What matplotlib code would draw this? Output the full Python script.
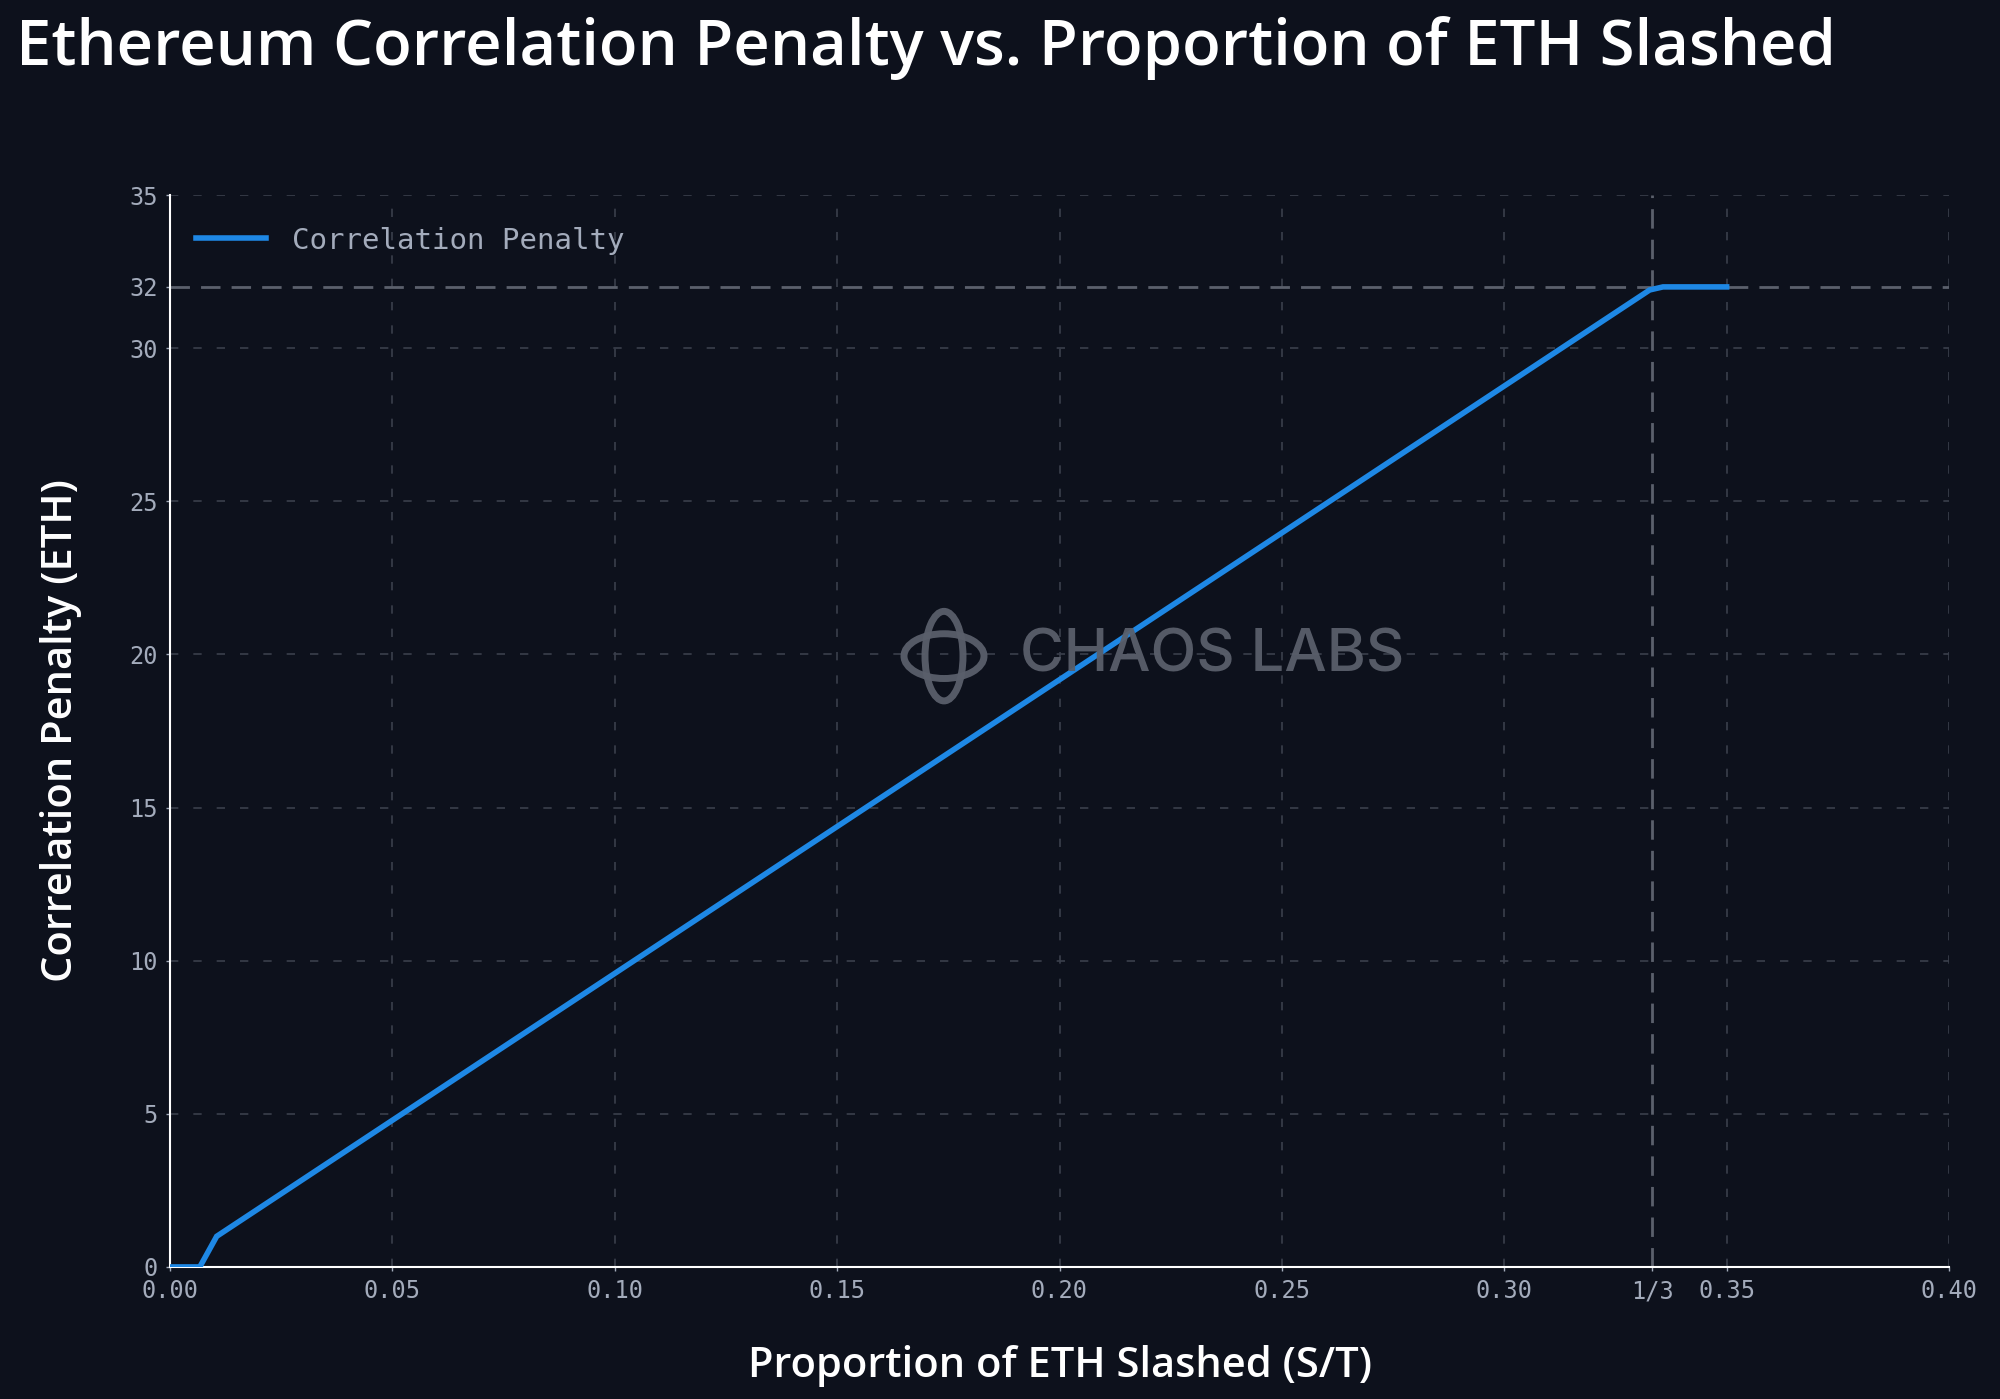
import matplotlib
matplotlib.use("Agg")
import matplotlib.pyplot as plt
from matplotlib.patches import Ellipse
import numpy as np

# data
slashed_frac = [0.0, 0.0067, 0.0105, 0.3327, 0.3357, 0.35]
penalty_eth = [0.0, 0.0, 1.0, 31.9, 32.0, 32.0]

x_ticks = [0.0, 0.05, 0.10, 0.15, 0.20, 0.25, 0.30, 1 / 3, 0.35, 0.40]
x_tick_labels = ["0.00", "0.05", "0.10", "0.15", "0.20", "0.25", "0.30", "1/3", "0.35", "0.40"]
y_ticks = [0, 5, 10, 15, 20, 25, 30, 32, 35]
grid_x = [0.05, 0.10, 0.15, 0.20, 0.25, 0.30, 0.35, 0.40]
grid_y = [5, 10, 15, 20, 25, 30, 35]

bg = "#0d111c"
blue = "#1e88e5"
tick_col = "#a3abbb"
grid_col = "#3a3f4c"
ref_col = "#5b606c"
wm_col = "#5a5f6b"

fig = plt.figure(figsize=(20, 13.99), dpi=100, facecolor=bg)
ax = fig.add_axes([0.085, 0.0944, 0.8895, 0.7662])
ax.set_facecolor(bg)

for gx in grid_x:
    ax.axvline(gx, color=grid_col, lw=1.2, ls=(0, (5, 9)), zorder=1)
for gy in grid_y:
    ax.axhline(gy, color=grid_col, lw=1.2, ls=(0, (5, 9)), zorder=1)

ax.axhline(32, color=ref_col, lw=2, ls=(0, (7, 4)), zorder=2)
ax.axvline(1 / 3, color=ref_col, lw=2, ls=(0, (7, 4)), zorder=2)

ax.plot(slashed_frac, penalty_eth, color=blue, lw=4, label="Correlation Penalty",
        zorder=4, solid_joinstyle="miter")

ax.set_xlim(0, 0.40)
ax.set_ylim(0, 35)
ax.set_xticks(x_ticks)
ax.set_xticklabels(x_tick_labels)
ax.set_yticks(y_ticks)

for s in ["top", "right"]:
    ax.spines[s].set_visible(False)
for s in ["left", "bottom"]:
    ax.spines[s].set_color("white")
    ax.spines[s].set_linewidth(1.5)

ax.tick_params(colors=tick_col, length=3, width=1, labelsize=17, pad=6)
for lab in ax.get_xticklabels() + ax.get_yticklabels():
    lab.set_family("DejaVu Sans Mono")
    lab.set_color(tick_col)

ax.set_xlabel("Proportion of ETH Slashed (S/T)", color="white", fontsize=30,
              family="Open Sans", fontweight="semibold", labelpad=30)
ax.set_ylabel("Correlation Penalty (ETH)", color="white", fontsize=30,
              family="Open Sans", fontweight="semibold", labelpad=34)

leg = ax.legend(loc="upper left", frameon=False, prop={"family": "DejaVu Sans Mono", "size": 21},
                handlelength=2.4, handletextpad=0.9, borderaxespad=0.5,
                bbox_to_anchor=(0.0, 0.995))
for t in leg.get_texts():
    t.set_color(tick_col)

# watermark
fig.text(0.51, 0.531, "CHAOS LABS", color=wm_col, fontsize=43, family="Inter",
         fontweight="medium", ha="left", va="center", alpha=0.95, zorder=5)
fig.patches.append(Ellipse((0.472, 0.531), 0.019, 0.064, fill=False, lw=5,
                           edgecolor=wm_col, transform=fig.transFigure, alpha=0.95))
fig.patches.append(Ellipse((0.472, 0.531), 0.040, 0.032, fill=False, lw=5,
                           edgecolor=wm_col, transform=fig.transFigure, alpha=0.95))

fig.text(0.008, 0.966, "Ethereum Correlation Penalty vs. Proportion of ETH Slashed",
         color="white", fontsize=45.6, family="Open Sans", fontweight="semibold",
         ha="left", va="center")

fig.savefig("out.png", dpi=100, facecolor=bg)
